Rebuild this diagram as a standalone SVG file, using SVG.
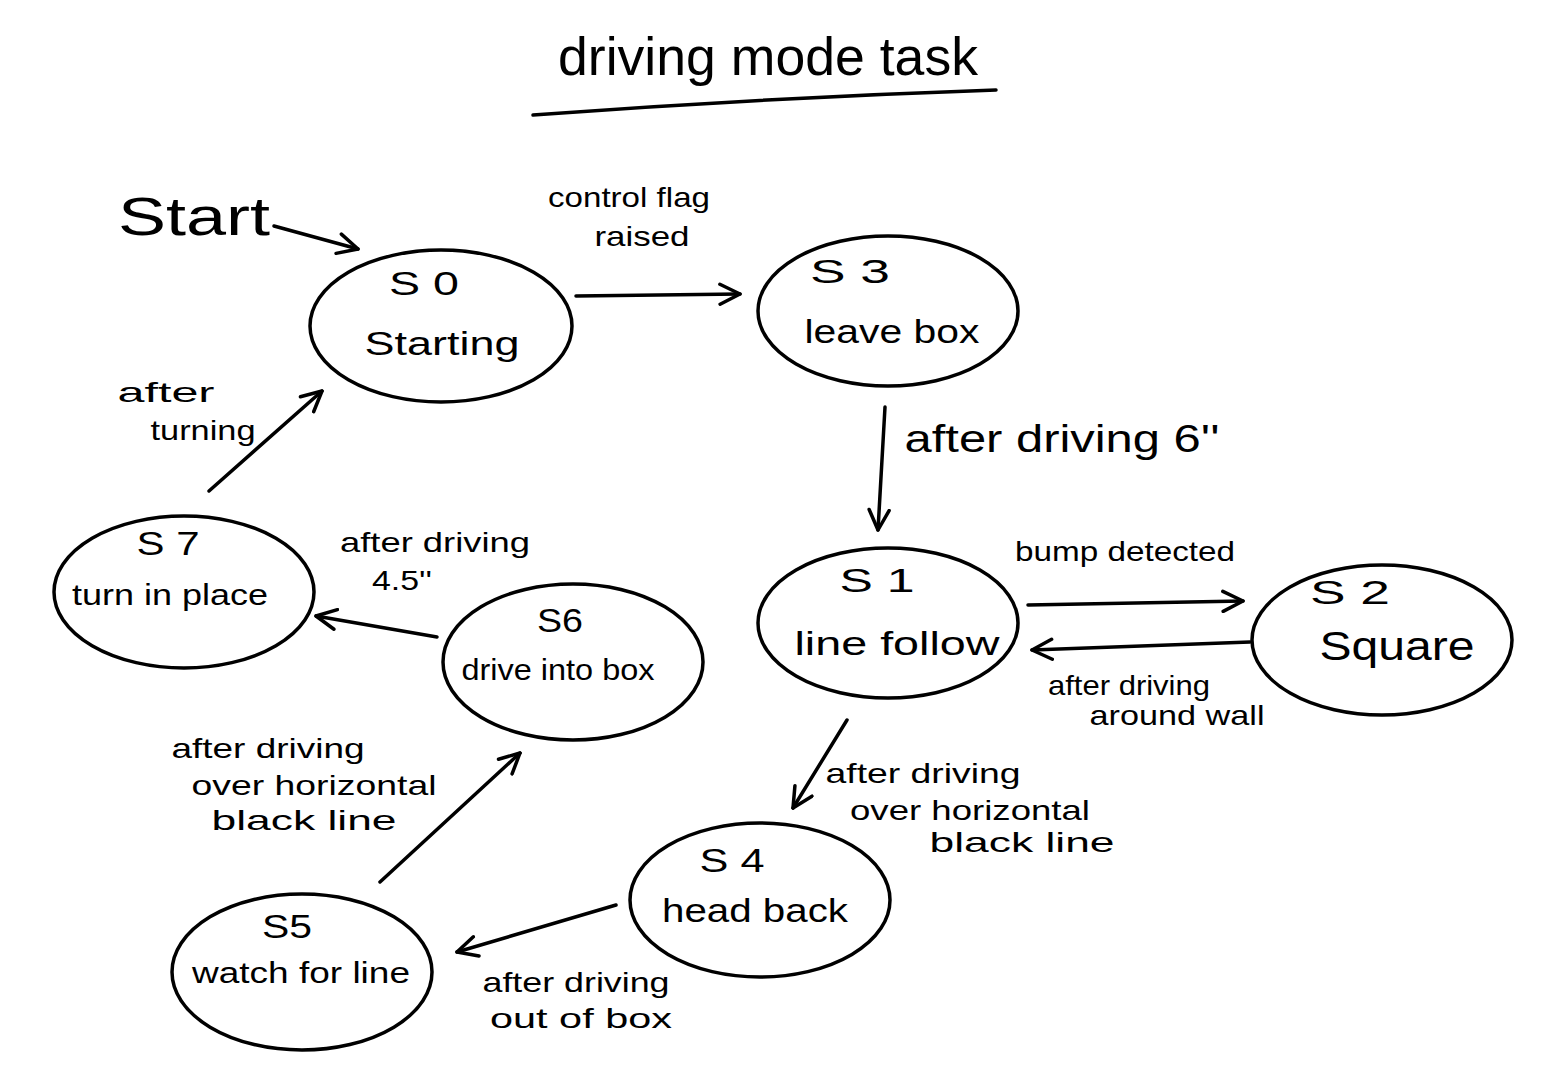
<svg xmlns="http://www.w3.org/2000/svg" width="1555" height="1073" viewBox="0 0 1555 1073">
<defs>
<marker id="ah" viewBox="0 0 24 24" refX="22" refY="12" markerWidth="24" markerHeight="24" markerUnits="userSpaceOnUse" orient="auto">
<path d="M2 2 L22 12 L2 22" fill="none" stroke="#000" stroke-width="3.5" stroke-linecap="round" stroke-linejoin="round"/>
</marker>
</defs>
<style>
.n{fill:none;stroke:#000;stroke-width:3.5}
.e path{fill:none;stroke:#000;stroke-width:3.5;stroke-linecap:round;marker-end:url(#ah)}
text{font-family:"Liberation Sans","DejaVu Sans",sans-serif;fill:#000;text-anchor:middle}
.t{font-size:30px}
.s{font-size:34px}
.l{font-size:28px}
</style>
<rect width="1555" height="1073" fill="#fff"/>
<g id="title">
<text x="768" y="75" font-size="54" textLength="420" lengthAdjust="spacingAndGlyphs">driving mode task</text>
<path d="M533 115 Q760 98 996 90" fill="none" stroke="#000" stroke-width="3.5" stroke-linecap="round"/>
</g>
<g id="start">
<text x="194" y="235" font-size="54" textLength="152" lengthAdjust="spacingAndGlyphs">Start</text>
</g>
<g id="S0">
<ellipse class="n" cx="441" cy="326" rx="131" ry="76"/>
<text class="s" x="424" y="295" textLength="70" lengthAdjust="spacingAndGlyphs">S 0</text>
<text class="s" x="442" y="355" textLength="155" lengthAdjust="spacingAndGlyphs">Starting</text>
</g>
<g id="S3">
<ellipse class="n" cx="888" cy="311" rx="130" ry="75"/>
<text class="s" x="850" y="283" textLength="80" lengthAdjust="spacingAndGlyphs">S 3</text>
<text class="s" x="892" y="343" textLength="175" lengthAdjust="spacingAndGlyphs">leave box</text>
</g>
<g id="S1">
<ellipse class="n" cx="888" cy="623" rx="130" ry="75"/>
<text class="s" x="877" y="592" textLength="75" lengthAdjust="spacingAndGlyphs">S 1</text>
<text class="s" x="897" y="655" textLength="205" lengthAdjust="spacingAndGlyphs">line follow</text>
</g>
<g id="S2">
<ellipse class="n" cx="1382" cy="640" rx="130" ry="75"/>
<text class="s" x="1350" y="604" textLength="80" lengthAdjust="spacingAndGlyphs">S 2</text>
<text x="1397" y="660" font-size="40" textLength="155" lengthAdjust="spacingAndGlyphs">Square</text>
</g>
<g id="S7">
<ellipse class="n" cx="184" cy="592" rx="130" ry="76"/>
<text class="s" x="168" y="555" textLength="63" lengthAdjust="spacingAndGlyphs">S 7</text>
<text class="t" x="170" y="605" textLength="196" lengthAdjust="spacingAndGlyphs">turn in place</text>
</g>
<g id="S6">
<ellipse class="n" cx="573" cy="662" rx="130" ry="78"/>
<text class="s" x="560" y="632" textLength="46" lengthAdjust="spacingAndGlyphs">S6</text>
<text class="t" x="558" y="680" textLength="193" lengthAdjust="spacingAndGlyphs">drive into box</text>
</g>
<g id="S4">
<ellipse class="n" cx="760" cy="900" rx="130" ry="77"/>
<text class="s" x="732" y="872" textLength="65" lengthAdjust="spacingAndGlyphs">S 4</text>
<text class="s" x="755" y="922" textLength="186" lengthAdjust="spacingAndGlyphs">head back</text>
</g>
<g id="S5">
<ellipse class="n" cx="302" cy="972" rx="130" ry="78"/>
<text class="s" x="287" y="938" textLength="50" lengthAdjust="spacingAndGlyphs">S5</text>
<text class="t" x="301" y="983" textLength="218" lengthAdjust="spacingAndGlyphs">watch for line</text>
</g>
<g id="connectors" class="e">
<path d="M274 226 L358 249"/>
<path d="M576 296 L740 294"/>
<path d="M885 407 L878 530"/>
<path d="M1028 605 L1243 601"/>
<path d="M1250 642 L1032 650"/>
<path d="M847 720 L793 808"/>
<path d="M616 905 L457 952"/>
<path d="M380 882 L520 753"/>
<path d="M437 637 L316 616"/>
<path d="M209 491 L322 391"/>
</g>
<g id="labels">
<text class="l" x="629" y="207" textLength="162" lengthAdjust="spacingAndGlyphs">control flag</text>
<text class="l" x="642" y="246" textLength="95" lengthAdjust="spacingAndGlyphs">raised</text>
<text x="1062" y="452" font-size="38" textLength="315" lengthAdjust="spacingAndGlyphs">after driving 6''</text>
<text class="l" x="1125" y="561" textLength="220" lengthAdjust="spacingAndGlyphs">bump detected</text>
<text class="l" x="1129" y="695" textLength="162" lengthAdjust="spacingAndGlyphs">after driving</text>
<text class="l" x="1177" y="725" textLength="175" lengthAdjust="spacingAndGlyphs">around wall</text>
<text class="l" x="923" y="783" textLength="195" lengthAdjust="spacingAndGlyphs">after driving</text>
<text class="l" x="970" y="820" textLength="240" lengthAdjust="spacingAndGlyphs">over horizontal</text>
<text class="l" x="1022" y="852" textLength="185" lengthAdjust="spacingAndGlyphs">black line</text>
<text class="l" x="576" y="992" textLength="187" lengthAdjust="spacingAndGlyphs">after driving</text>
<text class="l" x="581" y="1028" textLength="182" lengthAdjust="spacingAndGlyphs">out of box</text>
<text class="l" x="268" y="758" textLength="193" lengthAdjust="spacingAndGlyphs">after driving</text>
<text class="l" x="314" y="795" textLength="245" lengthAdjust="spacingAndGlyphs">over horizontal</text>
<text class="l" x="304" y="830" textLength="185" lengthAdjust="spacingAndGlyphs">black line</text>
<text class="l" x="435" y="552" textLength="190" lengthAdjust="spacingAndGlyphs">after driving</text>
<text class="l" x="402" y="590" textLength="60" lengthAdjust="spacingAndGlyphs">4.5''</text>
<text class="l" x="166" y="402" textLength="97" lengthAdjust="spacingAndGlyphs">after</text>
<text class="l" x="203" y="440" textLength="105" lengthAdjust="spacingAndGlyphs">turning</text>
</g>
</svg>
